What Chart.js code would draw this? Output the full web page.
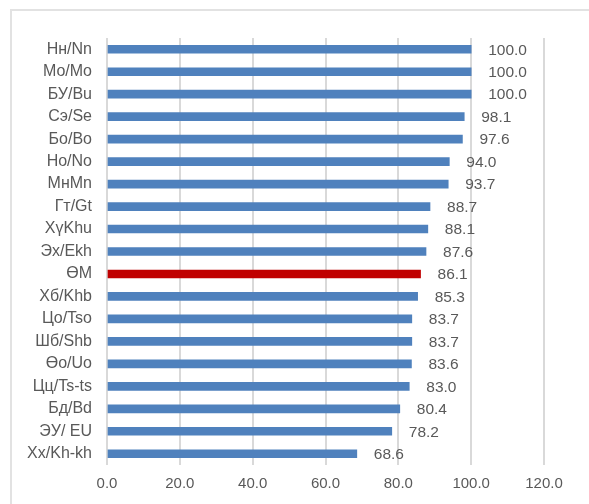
<!DOCTYPE html>
<html>
<head>
<meta charset="utf-8">
<script src="https://cdn.jsdelivr.net/npm/chart.js@4"></script>
<style>
  html, body { margin: 0; padding: 0; background: #fff; overflow: hidden; }
  #wrap { position: relative; width: 589px; height: 504px; }
  #frame { position: absolute; left: 10px; top: 9px; width: 620px; height: 540px;
           border: 2px solid #e2e2e2; box-sizing: border-box; }
  canvas { position: absolute; left: 0; top: 0; }
</style>
</head>
<body>
<div id="wrap">
  <div id="frame"></div>
  <canvas id="chart" width="589" height="504"></canvas>
</div>
<script>
const categories = [
  "Нн/Nn", "Мо/Mo", "БУ/Bu", "Сэ/Se", "Бо/Bo", "Но/No", "МнMn", "Гт/Gt", "ХүKhu",
  "Эх/Ekh", "ӨМ", "Хб/Khb", "Цо/Tso", "Шб/Shb", "Өо/Uo", "Цц/Ts-ts", "Бд/Bd",
  "ЭУ/ EU", "Хх/Kh-kh"
];
const values = [
  100.0, 100.0, 100.0, 98.1, 97.6, 94.0, 93.7, 88.7, 88.1,
  87.6, 86.1, 85.3, 83.7, 83.7, 83.6, 83.0, 80.4,
  78.2, 68.6
];
const highlight = "ӨМ";
const xTicks = [0, 20, 40, 60, 80, 100, 120];

const FONT = "'Liberation Sans', Arial, sans-serif";
const TEXT = "#595959";

// writes the value to the right of every bar
const valueLabels = {
  id: "valueLabels",
  afterDatasetsDraw(chart) {
    const ctx = chart.ctx;
    const meta = chart.getDatasetMeta(0);
    ctx.save();
    ctx.font = "15.5px " + FONT;
    ctx.fillStyle = TEXT;
    ctx.textAlign = "left";
    ctx.textBaseline = "middle";
    meta.data.forEach((bar, i) => {
      ctx.fillText(values[i].toFixed(1), bar.x + 17, bar.y + 1);
    });
    ctx.restore();
  },
};

new Chart(document.getElementById("chart"), {
  type: "bar",
  data: {
    labels: categories,
    datasets: [
      {
        data: values,
        backgroundColor: categories.map((c) => (c === highlight ? "#c00000" : "#4f81bd")),
        barThickness: 8,
      },
    ],
  },
  options: {
    indexAxis: "y",
    responsive: false,
    animation: false,
    layout: { padding: { top: 38, right: 45, left: 0, bottom: 0 } },
    plugins: {
      legend: { display: false },
      tooltip: { enabled: false },
    },
    scales: {
      x: {
        min: 0,
        max: 120,
        afterBuildTicks: (axis) => {
          axis.ticks = xTicks.map((v) => ({ value: v }));
        },
        afterFit: (axis) => {
          axis.height = 39;
        },
        border: { display: false },
        grid: { color: "#d9d9d9", lineWidth: 2, drawTicks: false },
        ticks: {
          padding: 10,
          color: TEXT,
          font: { family: FONT, size: 15 },
          callback: (value) => value.toFixed(1),
        },
      },
      y: {
        afterFit: (axis) => {
          axis.width = 107;
        },
        border: { display: false },
        grid: { display: false, drawTicks: false },
        ticks: {
          padding: 15,
          color: TEXT,
          font: { family: FONT, size: 16 },
        },
      },
    },
  },
  plugins: [valueLabels],
});
</script>
</body>
</html>
